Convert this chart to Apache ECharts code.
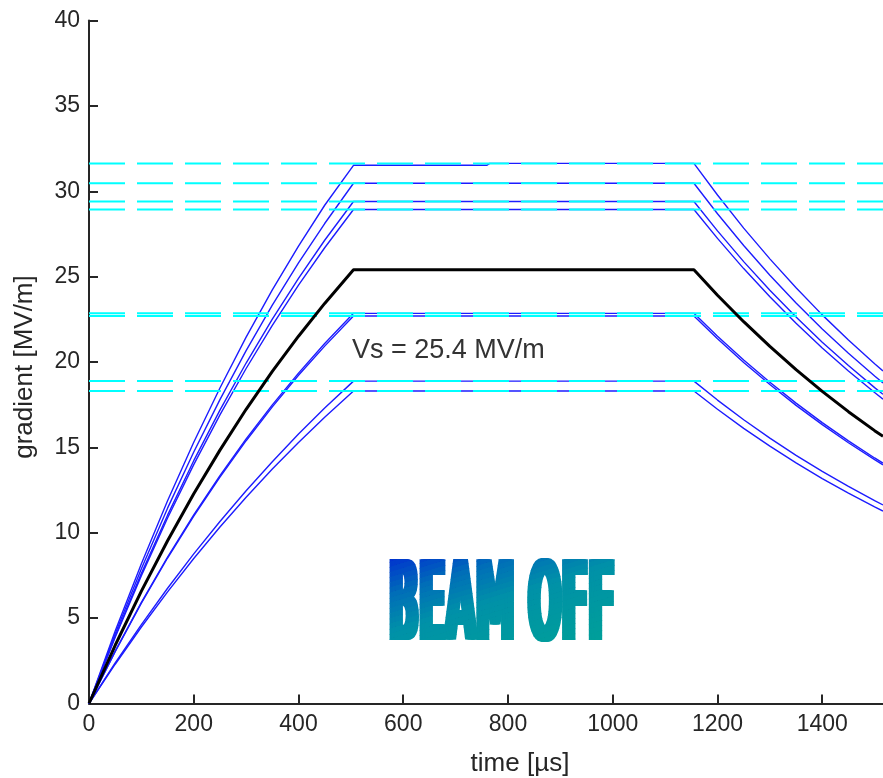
<!DOCTYPE html>
<html>
<head>
<meta charset="utf-8">
<script src="https://cdn.jsdelivr.net/npm/echarts@6/dist/echarts.min.js"></script>
<style>
  html, body { margin: 0; padding: 0; background: #ffffff; }
  #chart { width: 883px; height: 778px; }
</style>
</head>
<body>
<div id="chart"></div>
<script>
// Sample times along the RF pulse [µs]
var timeUs = [0, 50, 100, 150, 200, 250, 300, 350, 400, 450, 505, 760, 765, 1155, 1200, 1250, 1300, 1350, 1400, 1450, 1500, 1516];

// Individual cavity gradients [MV/m] at each sample time
var cav1 = [0, 4.24, 8.19, 11.87, 15.30, 18.48, 21.46, 24.22, 26.79, 29.18, 31.52, 31.52, 31.63, 31.63, 29.78, 27.84, 26.04, 24.35, 22.76, 21.29, 19.90, 19.48];
var cav2 = [0, 4.09, 7.89, 11.44, 14.73, 17.80, 20.67, 23.33, 25.81, 28.11, 30.47, 30.47, 30.47, 30.47, 28.68, 26.82, 25.08, 23.45, 21.93, 20.51, 19.18, 18.77];
var cav3 = [0, 3.94, 7.62, 11.03, 14.22, 17.18, 19.94, 22.51, 24.90, 27.13, 29.40, 29.40, 29.40, 29.40, 27.68, 25.88, 24.20, 22.63, 21.16, 19.79, 18.50, 18.11];
var cav4 = [0, 3.88, 7.49, 10.86, 13.99, 16.90, 19.62, 22.15, 24.50, 26.69, 28.93, 28.93, 28.93, 28.93, 27.24, 25.47, 23.82, 22.27, 20.82, 19.47, 18.21, 17.82];
var cav5 = [0, 3.07, 5.92, 8.58, 11.05, 13.35, 15.50, 17.49, 19.35, 21.08, 22.85, 22.85, 22.85, 22.85, 21.51, 20.12, 18.81, 17.59, 16.45, 15.38, 14.38, 14.08];
var cav6 = [0, 3.04, 5.88, 8.52, 10.97, 13.26, 15.39, 17.37, 19.22, 20.93, 22.69, 22.69, 22.69, 22.69, 21.36, 19.97, 18.68, 17.46, 16.33, 15.27, 14.28, 13.98];
var cav7 = [0, 2.38, 4.62, 6.75, 8.76, 10.66, 12.46, 14.16, 15.78, 17.30, 18.88, 18.88, 18.88, 18.88, 17.77, 16.62, 15.54, 14.53, 13.59, 12.71, 11.88, 11.63];
var cav8 = [0, 2.30, 4.48, 6.54, 8.49, 10.34, 12.08, 13.73, 15.29, 16.77, 18.30, 18.30, 18.30, 18.30, 17.23, 16.11, 15.07, 14.09, 13.17, 12.32, 11.52, 11.27];

// Vector-sum gradient [MV/m]
var vectorSum = [0, 3.41, 6.58, 9.53, 12.28, 14.84, 17.23, 19.45, 21.51, 23.43, 25.4, 25.4, 25.4, 25.4, 23.91, 22.36, 20.91, 19.55, 18.28, 17.09, 15.98, 15.65];

// Flat-top levels of the individual cavities [MV/m]
var flatLevels = [31.63, 30.47, 29.40, 28.93, 22.85, 22.69, 18.88, 18.30];

// Axis ranges and ticks
var xMax = 1516;
var xTicks = [0, 200, 400, 600, 800, 1000, 1200, 1400];
var yMin = 0, yMax = 40, yStep = 5;

var vsLabel = 'Vs = 25.4 MV/m';
var beamLabel = 'BEAM OFF';

function pairs(xs, ys) {
  return xs.map(function (x, i) { return [x, ys[i]]; });
}

var series = [];
[cav1, cav2, cav3, cav4, cav5, cav6, cav7, cav8].forEach(function (vals) {
  series.push({
    type: 'line',
    data: pairs(timeUs, vals),
    showSymbol: false,
    silent: true,
    z: 2,
    lineStyle: { color: '#1c1cff', width: 1.4 }
  });
});
flatLevels.forEach(function (lvl) {
  series.push({
    type: 'line',
    data: [[0, lvl], [xMax, lvl]],
    showSymbol: false,
    silent: true,
    z: 3,
    lineStyle: { color: '#00ffff', width: 2, type: [36, 12], dashOffset: 0 }
  });
});
series.push({
  type: 'line',
  data: pairs(timeUs, vectorSum),
  showSymbol: false,
  silent: true,
  z: 4,
  lineStyle: { color: '#000000', width: 3 }
});

var axisCol = '#262626';

var chart = echarts.init(document.getElementById('chart'), null, { renderer: 'canvas' });
chart.setOption({
  animation: false,
  backgroundColor: '#ffffff',
  grid: { left: 89, right: 0, top: 20.5, bottom: 74.5, outerBoundsMode: 'none' },
  xAxis: {
    type: 'value', min: 0, max: xMax,
    axisLine: { show: true, lineStyle: { color: axisCol, width: 2 } },
    axisTick: { show: true, inside: true, length: 9, lineStyle: { color: axisCol, width: 2 }, customValues: xTicks },
    axisLabel: {
      customValues: xTicks, color: axisCol, fontFamily: 'Liberation Sans', fontSize: 23, margin: 10,
      formatter: function (v) { return String(v); }
    },
    splitLine: { show: false }
  },
  yAxis: {
    type: 'value', min: yMin, max: yMax, interval: yStep,
    axisLine: { show: true, lineStyle: { color: axisCol, width: 2 } },
    axisTick: { show: true, inside: true, length: 9, lineStyle: { color: axisCol, width: 2 } },
    axisLabel: { color: axisCol, fontFamily: 'Liberation Sans', fontSize: 23, margin: 9 },
    splitLine: { show: false }
  },
  series: series,
  graphic: [
    {
      type: 'text', x: 25, y: 367, rotation: Math.PI / 2, silent: true,
      style: { text: 'gradient [MV/m]', font: '26px "Liberation Sans"', fill: axisCol, textAlign: 'center', textVerticalAlign: 'middle' }
    },
    {
      type: 'text', x: 520, y: 764, silent: true,
      style: { text: 'time [µs]', font: '26px "Liberation Sans"', fill: axisCol, textAlign: 'center', textVerticalAlign: 'middle' }
    },
    {
      type: 'text', x: 352, y: 351, silent: true, z: 10,
      style: { text: vsLabel, font: '27px "Liberation Sans"', fill: '#333333', textAlign: 'left', textVerticalAlign: 'middle' }
    }
  ]
});

// "BEAM OFF" banner: condensed heavy lettering with a diagonal blue-to-teal fill.
// The fill is built from clipped bands of the same text; small horizontal
// offsets thicken the vertical stems of the condensed glyphs.
(function drawBanner() {
  var zr = chart.getZr();
  var box = { x: 389, y: 557, w: 226, h: 85 };
  var stops = [[0, [0, 48, 208]], [0.25, [0, 110, 184]], [0.5, [0, 146, 168]], [1, [0, 160, 152]]];
  function colorAt(u) {
    for (var k = 1; k < stops.length; k++) {
      if (u <= stops[k][0]) {
        var a = stops[k - 1], b = stops[k];
        var t = (u - a[0]) / (b[0] - a[0]);
        var c = a[1].map(function (v, j) { return Math.round(v + (b[1][j] - v) * t); });
        return 'rgb(' + c.join(',') + ')';
      }
    }
    var l = stops[stops.length - 1][1];
    return 'rgb(' + l.join(',') + ')';
  }
  var sx = 0.352;
  var offsets = [0, 1.5, 3, 4.5, 6];
  var cx = box.x + box.w / 2 - 3;
  var cy = 611;
  var group = new echarts.graphic.Group({ x: cx, y: cy, scaleX: sx, silent: true });
  var N = 30;
  var wa = 0.45, wb = 0.55;
  function aOf(c, b) { return (c - wb * b) / wa; }
  for (var i = 0; i < N; i++) {
    var c0 = i === 0 ? -3 : i / N;
    var c1 = i === N - 1 ? 4 : (i + 1) / N + 0.004;
    var col = colorAt((i + 0.5) / N);
    var norm = [[aOf(c0, -1), -1], [aOf(c1, -1), -1], [aOf(c1, 2), 2], [aOf(c0, 2), 2]];
    offsets.forEach(function (off) {
      var lx = off / sx;
      var pts = norm.map(function (p) {
        var X = box.x + p[0] * box.w, Y = box.y + p[1] * box.h;
        return [(X - cx) / sx - lx, Y - cy];
      });
      var txt = new echarts.graphic.Text({
        x: lx, y: 0, z: 100, silent: true,
        style: { text: beamLabel, font: 'bold 111px "DejaVu Sans"', fill: col, align: 'center', verticalAlign: 'middle' }
      });
      txt.setClipPath(new echarts.graphic.Polygon({ shape: { points: pts } }));
      group.add(txt);
    });
  }
  zr.add(group);
})();
</script>
</body>
</html>
